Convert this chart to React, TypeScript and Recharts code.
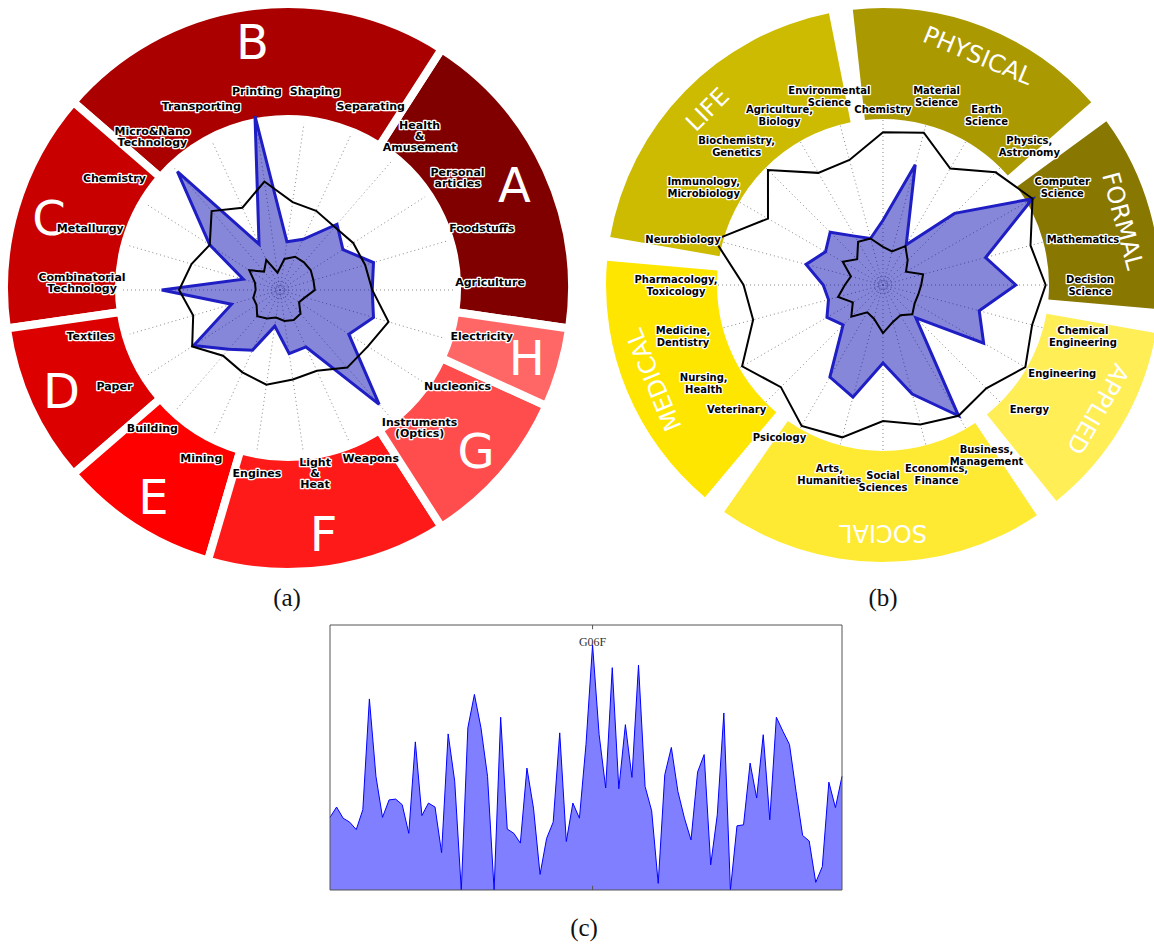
import React from 'react';
import {
  PieChart,
  Pie,
  Cell,
  RadarChart,
  Radar,
  PolarGrid,
  PolarAngleAxis,
  PolarRadiusAxis,
  AreaChart,
  Area,
  XAxis,
  YAxis,
  ReferenceLine,
  ReferenceArea,
} from 'recharts';

// (a) technology fields, counter-clockwise from east
const techFields = [
  'Agriculture', 'Foodstuffs', 'Personal\narticles', 'Health\n&\nAmusement', 'Separating', 'Shaping',
  'Printing', 'Transporting', 'Micro&Nano\nTechnology', 'Chemistry', 'Metallurgy', 'Combinatorial\nTechnology',
  'Textiles', 'Paper', 'Building', 'Mining', 'Engines', 'Light\n&\nHeat', 'Weapons', 'Instruments\n(Optics)',
  'Nucleonics', 'Electricity',
];
const techFocus = [53, 56, 43, 50, 32, 28, 101, 29, 90, 48, 22, 68, 29, 59, 45, 38, 21, 37, 36, 87, 47, 56];
const techOuter = [53, 51, 50, 48, 50, 51, 63, 52, 60, 48, 53, 58, 52, 60, 50, 52, 55, 52, 51, 59, 60, 65];
const techInner = [20, 20, 21, 21, 21, 18, 10, 19, 14, 21, 15, 14, 16, 16, 20, 18, 16, 18, 19, 18, 13, 15];
const techSections = ['A', 'B', 'C', 'D', 'E', 'F', 'G', 'H'];
const techSectionSizes = [4, 5, 3, 2, 2, 3, 2, 1];

// (b) science fields, counter-clockwise from east
const sciFields = [
  'Decision\nScience', 'Mathematics', 'Computer\nScience', 'Physics,\nAstronomy', 'Earth\nScience',
  'Material\nScience', 'Chemistry', 'Environmental\nScience', 'Agriculture,\nBiology', 'Biochemistry,\nGenetics',
  'Immunology,\nMicrobiology', 'Neurobiology', 'Pharmacology,\nToxicology', 'Medicine,\nDentistry',
  'Nursing,\nHealth', 'Veterinary', 'Psicology', 'Arts,\nHumanities', 'Social\nSciences',
  'Economics,\nFinance', 'Business,\nManagement', 'Energy', 'Engineering', 'Chemical\nEngineering',
];
const sciFocus = [80, 64, 104, 61, 28, 75, 39, 29, 34, 45, 40, 48, 36, 34, 39, 34, 64, 70, 47, 68, 91, 28, 70, 60];
const sciOuter = [98, 92, 104, 96, 81, 95, 92, 78, 78, 98, 80, 105, 84, 81, 98, 87, 98, 95, 82, 87, 91, 88, 99, 93];
const sciInner = [23, 25, 16, 21, 27, 21, 23, 29, 30, 22, 28, 20, 23, 28, 21, 27, 19, 21, 29, 23, 21, 25, 22, 22];
const sciSections = ['FORMAL', 'PHYSICAL', 'LIFE', 'MEDICAL', 'SOCIAL', 'APPLIED'];
const sciSectionSizes = [3, 4, 5, 4, 5, 3];

// (c) patent classes
const classValues = [
  0.274, 0.313, 0.271, 0.256, 0.228, 0.303, 0.721, 0.429, 0.274, 0.34, 0.343, 0.322, 0.214, 0.559, 0.281,
  0.328, 0.313, 0.141, 0.589, 0.41, 0, 0.612, 0.738, 0.612, 0.429, 0, 0.652, 0.23, 0.214, 0.177, 0.46,
  0.309, 0.059, 0.195, 0.256, 0.593, 0.183, 0.328, 0.271, 0.55, 0.925, 0.586, 0.385, 0.839, 0.382, 0.624,
  0.425, 0.849, 0.391, 0.299, 0.025, 0.435, 0.538, 0.372, 0.271, 0.189, 0.445, 0.511, 0.095, 0.284, 0.668,
  0, 0.242, 0.246, 0.479, 0.347, 0.586, 0.265, 0.652, 0.599, 0.549, 0.372, 0.206, 0.185, 0.029, 0.088,
  0.407, 0.311, 0.429,
];
const peakClass = 'G06F';
const peakIndex = 40;

const techColors = ['#800000', '#aa0000', '#c80000', '#dc0000', '#ff0000', '#ff1a1a', '#ff4d4d', '#ff6666'];
const sciColors = ['#887700', '#aa9900', '#ccbb00', '#ffe600', '#ffea33', '#ffee55'];

const RAD = Math.PI / 180;
const noMargin = { top: 0, right: 0, bottom: 0, left: 0 };
const layer: React.CSSProperties = { position: 'absolute', left: 0, top: 0 };

type PanelProps = {
  left: number;
  width: number;
  height: number;
  cx: number;
  cy: number;
  radarR: number;
  gridR: number;
  ringCx: number;
  ringCy: number;
  ringInner: number;
  ringOuter: number;
  fields: string[];
  focus: number[];
  outer: number[];
  inner: number[];
  sections: string[];
  sizes: number[];
  colors: string[];
  gapStroke: number;
  padAngle: number;
  labelCx: number;
  labelCy: number;
  labelRx: number;
  labelRy: number;
  labelRyPerLine: number;
  labelFont: number;
  lineHeight: number;
  sectionRadius: number;
  sectionFont: number;
  rotateSections: boolean;
};

function PolarPanel(p: PanelProps) {
  const n = p.fields.length;
  const step = 360 / n;
  const rows = p.fields.map((name, i) => ({ name, focus: p.focus[i], outer: p.outer[i], inner: p.inner[i] }));
  const ring = p.sections.map((name, i) => ({ name, size: p.sizes[i] }));
  const starts: number[] = [];
  let acc = 0;
  p.sizes.forEach((s) => {
    starts.push(acc);
    acc += s;
  });

  const renderTick = (props: any) => {
    const i = props.index;
    const a = i * step;
    const lines = p.fields[i].split('\n');
    const ry = p.labelRy + p.labelRyPerLine * (lines.length - 1);
    const x = p.labelCx + p.labelRx * Math.cos(a * RAD);
    const y = p.labelCy - ry * Math.sin(a * RAD);
    return (
      <text
        key={`t${i}`}
        x={x}
        y={y}
        textAnchor="middle"
        dominantBaseline="central"
        fontFamily="DejaVu Sans"
        fontSize={p.labelFont}
        fontWeight="bold"
        fill="#000"
        stroke="#fff"
        strokeWidth={2.6}
        strokeLinejoin="round"
        style={{ paintOrder: 'stroke' }}
      >
        {lines.map((l, k) => (
          <tspan key={k} x={x} y={y + (k - (lines.length - 1) / 2) * p.lineHeight}>
            {l}
          </tspan>
        ))}
      </text>
    );
  };

  const renderSection = (props: any) => {
    const i = props.index;
    const mid = -step / 2 + (starts[i] + p.sizes[i] / 2) * step;
    const x = p.ringCx + p.sectionRadius * Math.cos(mid * RAD);
    const y = p.ringCy - p.sectionRadius * Math.sin(mid * RAD);
    const rot = p.rotateSections ? 90 - mid : 0;
    return (
      <text
        key={`s${i}`}
        x={x}
        y={y}
        textAnchor="middle"
        dominantBaseline="central"
        fontFamily="DejaVu Sans"
        fontSize={p.sectionFont}
        fill="#fff"
        transform={`rotate(${rot} ${x} ${y})`}
      >
        {p.sections[i]}
      </text>
    );
  };

  // the angle axis puts the first field one step after startAngle, so start one step early
  const radarLayer = (marks: boolean) => (
    <div style={layer}>
      <RadarChart
        width={p.width}
        height={p.height}
        cx={p.cx}
        cy={p.cy}
        outerRadius={marks ? p.radarR : p.gridR}
        startAngle={-step}
        endAngle={360 - step}
        data={rows}
        margin={noMargin}
      >
        {!marks && <PolarGrid gridType="circle" polarRadius={[3, 6, 9]} stroke="#888" strokeDasharray="1 3" />}
        <PolarRadiusAxis domain={[0, 100]} allowDataOverflow tick={false} axisLine={false} />
        {marks ? (
          <>
            <Radar
              dataKey="focus"
              stroke="#1e1ec4"
              strokeWidth={3}
              fill="#0000b0"
              fillOpacity={0.47}
              isAnimationActive={false}
            />
            <Radar dataKey="outer" stroke="#000" strokeWidth={2} fill="none" fillOpacity={0} isAnimationActive={false} />
            <Radar dataKey="inner" stroke="#000" strokeWidth={2} fill="none" fillOpacity={0} isAnimationActive={false} />
          </>
        ) : (
          <Radar dataKey="focus" stroke="none" fill="none" fillOpacity={0} isAnimationActive={false} />
        )}
        <PolarAngleAxis dataKey="name" tick={marks ? renderTick : false} axisLine={false} tickLine={false} />
      </RadarChart>
    </div>
  );

  return (
    <div style={{ position: 'absolute', left: p.left, top: 0, width: p.width, height: p.height }}>
      {radarLayer(false)}
      <div style={layer}>
        <PieChart width={p.width} height={p.height} margin={noMargin}>
          <Pie
            data={ring}
            dataKey="size"
            cx={p.ringCx}
            cy={p.ringCy}
            innerRadius={p.ringInner}
            outerRadius={p.ringOuter}
            startAngle={-step / 2 + p.padAngle / 2}
            endAngle={360 - step / 2 + p.padAngle / 2}
            paddingAngle={p.padAngle}
            stroke={p.gapStroke > 0 ? '#fff' : 'none'}
            strokeWidth={p.gapStroke}
            label={renderSection}
            labelLine={false}
            isAnimationActive={false}
          >
            {ring.map((r, i) => (
              <Cell key={r.name} fill={p.colors[i]} />
            ))}
          </Pie>
        </PieChart>
      </div>
      {radarLayer(true)}
    </div>
  );
}

function ClassProfile() {
  const rows = classValues.map((v, i) => ({ i, v }));
  const last = classValues.length - 1;
  const renderPeak = (props: any) => {
    if (props.index !== peakIndex) return null;
    return (
      <text key="peak" x={props.x} y={props.y + 1} textAnchor="middle" fontFamily="Liberation Serif" fontSize={12} fill="#333">
        {peakClass}
      </text>
    );
  };
  return (
    <div style={{ position: 'absolute', left: 329, top: 624 }}>
      <AreaChart width={514} height={267} data={rows} margin={{ top: 1, right: 1, bottom: 1, left: 1 }}>
        <XAxis dataKey="i" type="number" domain={[0, last]} height={0} tick={false} tickLine={false} axisLine={false} />
        <YAxis domain={[0, 1]} width={0} tick={false} tickLine={false} axisLine={false} />
        <Area
          type="linear"
          dataKey="v"
          stroke="#0000ff"
          strokeWidth={1}
          fill="#7f7fff"
          fillOpacity={1}
          dot={false}
          activeDot={false}
          label={renderPeak}
          isAnimationActive={false}
        />
        <ReferenceArea x1={0} x2={last} y1={0} y2={1} fill="none" stroke="#555" strokeWidth={1} ifOverflow="visible" />
        <ReferenceLine segment={[{ x: peakIndex, y: 0 }, { x: peakIndex, y: 0.016 }]} stroke="#555" />
        <ReferenceLine segment={[{ x: peakIndex, y: 1 }, { x: peakIndex, y: 0.984 }]} stroke="#555" />
      </AreaChart>
    </div>
  );
}

const caption: React.CSSProperties = {
  position: 'absolute',
  fontFamily: 'Liberation Serif',
  fontSize: 25,
  color: '#111',
  transform: 'translateX(-50%)',
  lineHeight: '28px',
};

export default function App() {
  return (
    <div style={{ position: 'absolute', left: 0, top: 0, width: 1154, height: 946, background: '#fff', overflow: 'hidden' }}>
      <PolarPanel
        left={0}
        width={580}
        height={580}
        cx={280}
        cy={290}
        radarR={174}
        gridR={190}
        ringCx={288}
        ringCy={288}
        ringInner={169}
        ringOuter={284}
        fields={techFields}
        focus={techFocus}
        outer={techOuter}
        inner={techInner}
        sections={techSections}
        sizes={techSectionSizes}
        colors={techColors}
        gapStroke={8}
        padAngle={0}
        labelCx={286}
        labelCy={282}
        labelRx={204}
        labelRy={193}
        labelRyPerLine={0}
        labelFont={11}
        lineHeight={11}
        sectionRadius={249}
        sectionFont={48}
        rotateSections={false}
      />
      <PolarPanel
        left={580}
        width={574}
        height={580}
        cx={303}
        cy={285}
        radarR={166}
        gridR={166}
        ringCx={303}
        ringCy={285}
        ringInner={166}
        ringOuter={277}
        fields={sciFields}
        focus={sciFocus}
        outer={sciOuter}
        inner={sciInner}
        sections={sciSections}
        sizes={sciSectionSizes}
        colors={sciColors}
        gapStroke={0}
        padAngle={5}
        labelCx={303}
        labelCy={285}
        labelRx={207}
        labelRy={176}
        labelRyPerLine={20}
        labelFont={10}
        lineHeight={12}
        sectionRadius={248}
        sectionFont={24}
        rotateSections={true}
      />
      <ClassProfile />
      <div style={{ ...caption, left: 287, top: 584 }}>(a)</div>
      <div style={{ ...caption, left: 883, top: 584 }}>(b)</div>
      <div style={{ ...caption, left: 584, top: 914 }}>(c)</div>
    </div>
  );
}
